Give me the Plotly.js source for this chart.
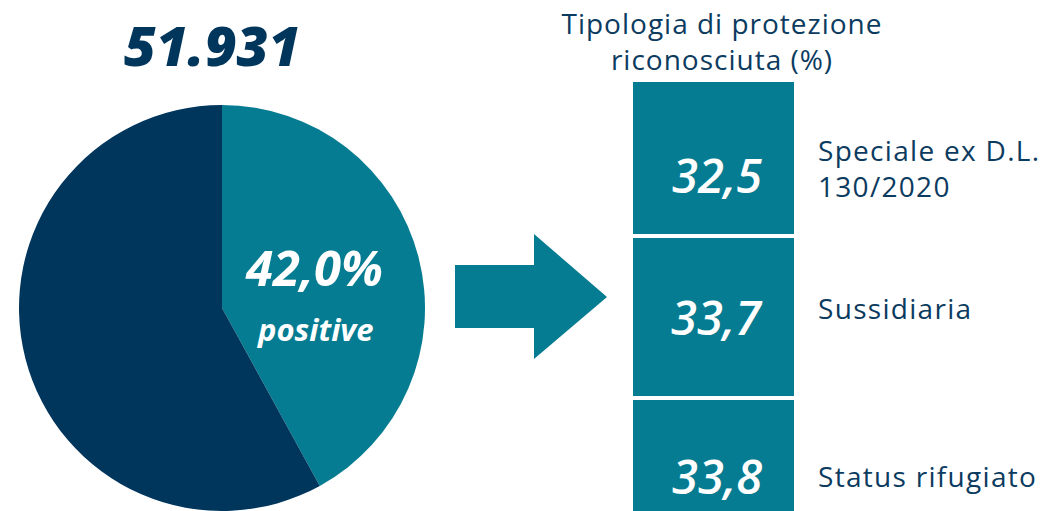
<!DOCTYPE html>
<html><head><meta charset="utf-8">
<script src="https://cdn.plot.ly/plotly-3.0.1.min.js"></script>
<style>html,body{margin:0;padding:0;background:#fff}#chart{width:1047px;height:511px}</style>
</head><body><div id="chart"></div>
<script>
// ---- data ----
const totalDecisions = 51931;
const pieLabels = ['positive', 'altre'];
const pieValues = [42.0, 58.0];
const protTitle = 'Tipologia di protezione<br>riconosciuta (%)';
const protCategories = ['Speciale ex D.L.<br>130/2020', 'Sussidiaria', 'Status rifugiato'];
const protValues = [32.5, 33.7, 33.8];

// ---- styles ----
const W = 1047, H = 511;
const NAVY = '#00355C';
const TEAL = '#057C91';
const TEXTNAVY = '#0C3B60';
const NUMFONT = 'Open Sans';
const LABFONT = 'Open Sans';
const valueShift = [-17, 0, 3];
const labelShift = [-10, 9, 3];

function fmtThousands(n){ return String(n).replace(/\B(?=(\d{3})+(?!\d))/g, '.'); }
function fmtDec(v){ return v.toFixed(1).replace('.', ','); }
function px(x){ return x / W; }
function py(y){ return 1 - y / H; }
function P(x, y){ return px(x).toFixed(5) + ',' + py(y).toFixed(5); }

const traces = [];
traces.push({
  type: 'pie', labels: pieLabels, values: pieValues,
  sort: false, direction: 'clockwise', rotation: 0,
  marker: {colors: [TEAL, NAVY], line: {width: 0}},
  textinfo: 'none', hoverinfo: 'none', showlegend: false,
  domain: {x: [px(222 - 203), px(222 + 203)], y: [0, 406 / H]}
});

protValues.forEach((v, i) => {
  traces.push({
    type: 'bar', x: ['T'], y: [v], name: protCategories[i],
    xaxis: 'x', yaxis: 'y', width: 1,
    marker: {color: TEAL, line: {color: '#ffffff', width: 4}},
    hoverinfo: 'none', showlegend: false
  });
});

const scale = 4.8, top0 = 80;
const annotations = [];
const spacing = [];
annotations.push({
  xref: 'paper', yref: 'paper', x: px(212), y: py(44), text: '<i>' + fmtThousands(totalDecisions) + '</i>',
  showarrow: false, xanchor: 'center', yanchor: 'middle',
  font: {family: NUMFONT, size: 55, color: NAVY, weight: 800}
}); spacing.push(0);
annotations.push({
  xref: 'paper', yref: 'paper', x: px(314), y: py(267), text: '<b><i>' + fmtDec(pieValues[0]) + '%</i></b>',
  showarrow: false, xanchor: 'center', yanchor: 'middle',
  font: {family: NUMFONT, size: 49, color: '#ffffff'}
}); spacing.push(0);
annotations.push({
  xref: 'paper', yref: 'paper', x: px(315), y: py(329), text: '<b><i>' + pieLabels[0] + '</i></b>',
  showarrow: false, xanchor: 'center', yanchor: 'middle',
  font: {family: NUMFONT, size: 31, color: '#ffffff'}
}); spacing.push(0);
annotations.push({
  xref: 'paper', yref: 'paper', x: px(722), y: py(41), text: protTitle,
  showarrow: false, xanchor: 'center', yanchor: 'middle',
  font: {family: LABFONT, size: 28, color: TEXTNAVY}
}); spacing.push(1);
let cum = 0;
protValues.forEach((v, i) => {
  const mid = cum + v / 2; cum += v;
  annotations.push({
    xref: 'x', yref: 'y', x: 'T', y: mid, yshift: valueShift[i], xshift: 3,
    text: '<i>' + fmtDec(v) + '</i>', showarrow: false, xanchor: 'center', yanchor: 'middle',
    font: {family: NUMFONT, size: 47, color: '#ffffff', weight: 600}
  }); spacing.push(0);
  annotations.push({
    xref: 'paper', yref: 'y', x: px(816), y: mid, yshift: labelShift[i],
    text: protCategories[i], showarrow: false, xanchor: 'left', yanchor: 'middle', align: 'left',
    font: {family: LABFONT, size: 28, color: TEXTNAVY}
  }); spacing.push(1.3);
});

const layout = {
  width: W, height: H, margin: {l: 0, r: 0, t: 0, b: 0, pad: 0},
  paper_bgcolor: '#ffffff', plot_bgcolor: 'rgba(0,0,0,0)',
  barmode: 'stack', bargap: 0, showlegend: false,
  xaxis: {domain: [px(631), px(796)], range: [-0.5, 0.5], visible: false, fixedrange: true},
  yaxis: {domain: [0, 1], range: [(H - top0) / scale, -top0 / scale], autorange: false, visible: false, fixedrange: true},
  shapes: [{
    type: 'path', xref: 'paper', yref: 'paper', layer: 'below',
    path: 'M ' + P(455, 265) + ' L ' + P(534, 265) + ' L ' + P(534, 234) + ' L ' + P(607, 297) +
          ' L ' + P(534, 359) + ' L ' + P(534, 328) + ' L ' + P(455, 328) + ' Z',
    fillcolor: TEAL, line: {width: 0}
  }],
  annotations: annotations
};

Plotly.newPlot('chart', traces, layout, {staticPlot: true, displayModeBar: false}).then(() => {
  const nodes = document.querySelectorAll('#chart .annotation-text');
  nodes.forEach((n, i) => { if (spacing[i]) n.style.letterSpacing = spacing[i] + 'px'; });
});
</script></body></html>
